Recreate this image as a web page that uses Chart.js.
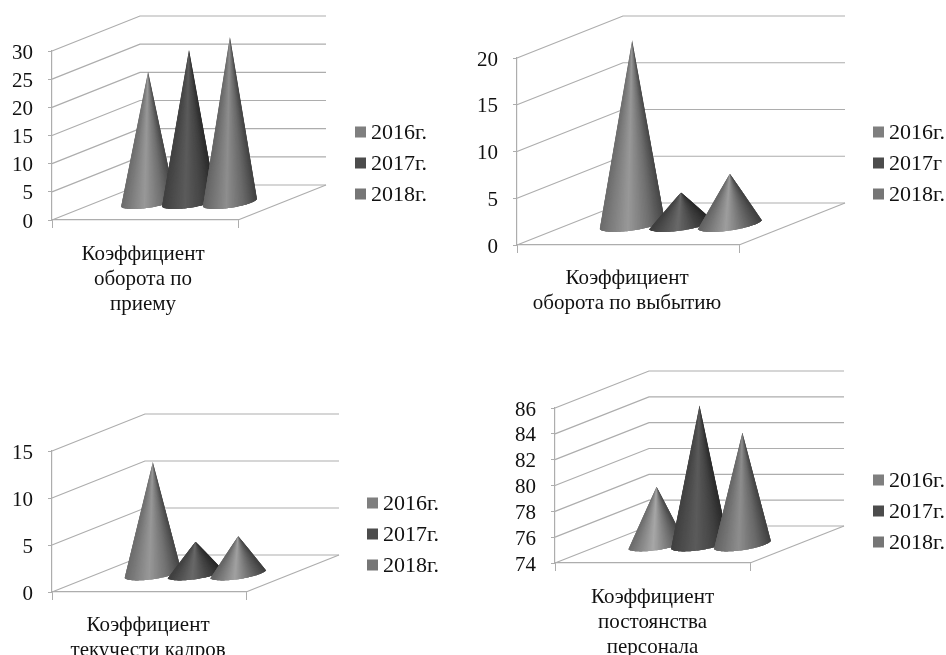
<!DOCTYPE html>
<html>
<head>
<meta charset="utf-8">
<style>
  body { margin: 0; background: #fff; }
  #page { position: relative; width: 946px; height: 655px; overflow: hidden; }
  canvas { position: absolute; }
</style>
<script src="https://cdn.jsdelivr.net/npm/chart.js@4/dist/chart.umd.js"></script>
</head>
<body>
<div id="page">
  <canvas id="chart1" style="left:0;top:0" width="473" height="327"></canvas>
  <canvas id="chart2" style="left:473px;top:0" width="473" height="327"></canvas>
  <canvas id="chart3" style="left:0;top:327px" width="473" height="328"></canvas>
  <canvas id="chart4" style="left:473px;top:327px" width="473" height="328"></canvas>
</div>
<script>
// values
const hireLabel = [["Коэффициент", "оборота по", "приему"]];
const leaveLabel = [["Коэффициент", "оборота по выбытию"]];
const flowLabel = [["Коэффициент", "текучести кадров"]];
const stayLabel = [["Коэффициент", "постоянства", "персонала"]];

const years = ["2016г.", "2017г.", "2018г."];
const yearsLeave = ["2016г.", "2017г", "2018г."];

const hireValues = [23.3, 27.2, 29.5];
const leaveValues = [19.7, 3.4, 5.4];
const flowValues = [11.9, 3.4, 4];
const stayValues = [78.5, 84.8, 82.7];

const hireTicks = [0, 30, 5];
const leaveTicks = [0, 20, 5];
const flowTicks = [0, 15, 5];
const stayTicks = [74, 86, 2];

const greys = [127, 76, 118];
const wallColor = "#adadad";
const serif = "'Liberation Serif'";

function shade(g, u, boost) {
  // metallic look: highlight a bit left of the middle, dark right edge
  let s;
  if (u < 0.42) s = 0.85 + (boost - 0.85) * (u / 0.42);
  else if (u < 0.75) s = boost + (0.88 - boost) * ((u - 0.42) / 0.33);
  else s = 0.88 - 0.33 * ((u - 0.75) / 0.25);
  const v = Math.min(255, Math.round(g * s));
  return "rgb(" + v + "," + v + "," + v + ")";
}

function drawCone(ctx, el, grey, depth) {
  const cx = el.x + depth.dx / 2;
  const cy = el.base + depth.dy / 2;
  const tipY = el.y + depth.dy / 2;
  const rx = el.width * 0.56;
  const qx = depth.dx * 0.17;
  const qy = depth.dy * 0.2;
  const at = (t) => [cx + rx * Math.cos(t) + qx * Math.sin(t), cy + qy * Math.sin(t)];

  // tangents from the tip to the slanted base
  let tL = 0, tR = 0, minA = Infinity, maxA = -Infinity;
  for (let t = Math.PI - 1; t <= 2 * Math.PI + 1; t += 0.01) {
    const p = at(t);
    const a = Math.atan2(p[0] - cx, p[1] - tipY);
    if (a < minA) { minA = a; tL = t; }
    if (a > maxA) { maxA = a; tR = t; }
  }
  const xL = at(tL)[0], xR = at(tR)[0];
  const boost = 1.2 + 0.25 * Math.max(0, 1 - (cy - tipY) / 110);
  const n = 60;

  ctx.save();
  ctx.beginPath();
  ctx.moveTo(cx, tipY);
  for (let i = 0; i <= n; i++) {
    const p = at(tL + (tR - tL) * i / n);
    ctx.lineTo(p[0], p[1]);
  }
  ctx.closePath();
  ctx.clip();
  // overlapping slices so no seams show, the clip gives the clean outline
  for (let i = 0; i < n; i++) {
    const a = at(tL + (tR - tL) * i / n);
    const b = at(tL + (tR - tL) * Math.min(n, i + 3) / n);
    ctx.fillStyle = shade(grey, (a[0] - xL) / (xR - xL), boost);
    ctx.beginPath();
    ctx.moveTo(cx, tipY);
    ctx.lineTo(a[0], a[1] + 3);
    ctx.lineTo(b[0], b[1] + 3);
    ctx.closePath();
    ctx.fill();
  }
  ctx.restore();
}

class ConeController extends Chart.BarController {
  draw() {
    // the chart draws datasets last to first, cones overlap the other way round
    if (this.index !== 0) return;
    const chart = this.chart;
    const depth = chart.options.plugins.walls;
    chart.data.datasets.forEach((ds, i) => {
      chart.getDatasetMeta(i).data.forEach((el) => drawCone(chart.ctx, el, greys[i], depth));
    });
  }
}
ConeController.id = "cone";
ConeController.defaults = Chart.BarController.defaults;
ConeController.overrides = Chart.BarController.overrides;
Chart.register(ConeController);

const walls = {
  id: "walls",
  beforeDatasetsDraw(chart, args, opts) {
    const { ctx, chartArea: a, scales: { y } } = chart;
    ctx.save();
    ctx.strokeStyle = wallColor;
    ctx.lineWidth = 1.2;
    y.ticks.forEach((t) => {
      const py = y.getPixelForValue(t.value);
      ctx.beginPath();
      ctx.moveTo(a.left, py);
      ctx.lineTo(a.left + opts.dx, py + opts.dy);
      ctx.lineTo(a.right + opts.dx, py + opts.dy);
      ctx.stroke();
    });
    ctx.beginPath();
    ctx.moveTo(a.right, a.bottom);
    ctx.lineTo(a.right + opts.dx, a.bottom + opts.dy);
    ctx.stroke();
    ctx.restore();
  },
};

// legend with the swatch close to the text, the built in one keeps a wider gap
const sideLegend = {
  id: "sideLegend",
  afterDraw(chart, args, opts) {
    const ctx = chart.ctx;
    ctx.save();
    ctx.font = "22px " + serif;
    ctx.textBaseline = "middle";
    chart.data.datasets.forEach((ds, i) => {
      const cy = opts.y + i * 31;
      ctx.fillStyle = ds.backgroundColor;
      ctx.fillRect(opts.x, cy - 5.5, 11, 11);
      ctx.fillStyle = "#111";
      ctx.fillText(ds.label, opts.x + 16, cy + 1);
    });
    ctx.restore();
  },
};

function makePanel(id, labels, names, values, ticks, box) {
  new Chart(document.getElementById(id), {
    type: "cone",
    plugins: [walls, sideLegend],
    data: {
      labels: labels,
      datasets: names.map((name, i) => ({
        label: name,
        data: [values[i]],
        base: ticks[0],
        backgroundColor: "rgb(" + greys[i] + "," + greys[i] + "," + greys[i] + ")",
        clip: false,
        categoryPercentage: 0.66,
        barPercentage: 1,
      })),
    },
    options: {
      responsive: false,
      animation: false,
      layout: {
        padding: { left: 0, top: box.top, right: 473 - box.right, bottom: 0 },
      },
      plugins: {
        legend: { display: false },
        tooltip: { enabled: false },
        walls: { dx: box.dx, dy: box.dy },
        sideLegend: { x: box.legendX, y: box.legendY },
      },
      scales: {
        x: {
          type: "category",
          afterFit: (s) => { s.height = box.h - box.bottom; },
          grid: { offset: true, drawOnChartArea: false, tickLength: 8, color: wallColor },
          border: { color: wallColor, width: 1.2 },
          ticks: {
            color: "#111",
            padding: box.labelGap,
            labelOffset: box.labelShift,
            maxRotation: 0,
            autoSkip: false,
            font: { family: serif, size: 21, lineHeight: 25 / 21 },
          },
        },
        y: {
          type: "linear",
          min: ticks[0],
          max: ticks[1],
          afterFit: (s) => { s.width = box.left; },
          grid: { drawOnChartArea: false, tickLength: 4, color: wallColor },
          border: { color: wallColor, width: 1.2 },
          ticks: {
            stepSize: ticks[2],
            autoSkip: false,
            color: "#111",
            padding: 15,
            labelOffset: 2,
            font: { family: serif, size: 21 },
          },
        },
      },
    },
  });
}

makePanel("chart1", hireLabel, years, hireValues, hireTicks,
  { left: 52, right: 238, top: 51, bottom: 220, h: 327, dx: 88, dy: -35, legendX: 355, legendY: 132, labelShift: -2, labelGap: 14 });
makePanel("chart2", leaveLabel, yearsLeave, leaveValues, leaveTicks,
  { left: 44, right: 266, top: 58, bottom: 245, h: 327, dx: 106, dy: -42, legendX: 400, legendY: 132, labelShift: -1, labelGap: 13 });
makePanel("chart3", flowLabel, years, flowValues, flowTicks,
  { left: 52, right: 246, top: 124, bottom: 265, h: 328, dx: 93, dy: -37, legendX: 367, legendY: 176, labelShift: -1, labelGap: 13 });
makePanel("chart4", stayLabel, years, stayValues, stayTicks,
  { left: 82, right: 277, top: 81, bottom: 236, h: 328, dx: 94, dy: -37, legendX: 400, legendY: 153, labelShift: 0, labelGap: 14 });
</script>
</body>
</html>
